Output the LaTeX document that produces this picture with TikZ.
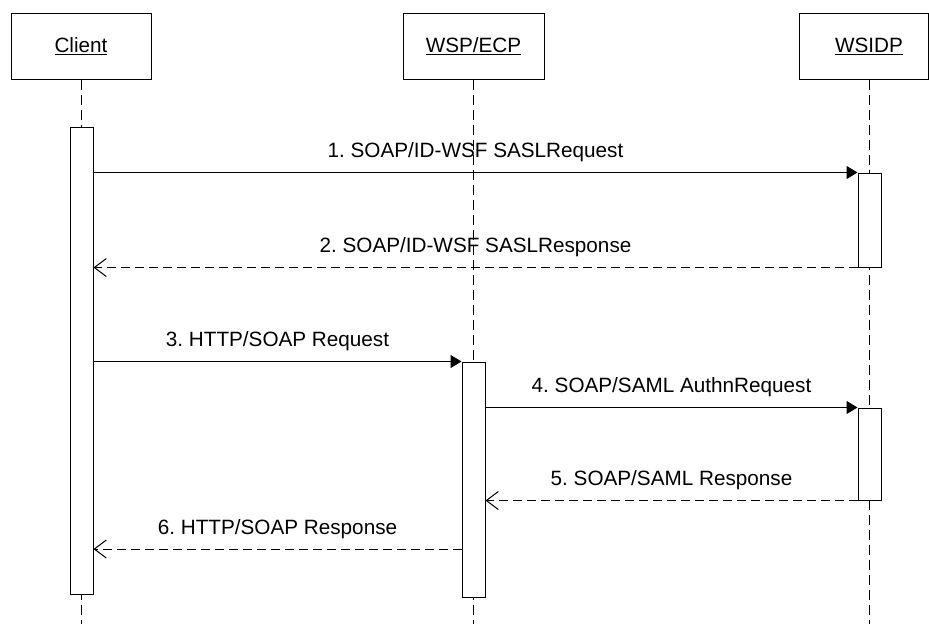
\documentclass[tikz,border=0pt]{standalone}
\usepackage{fontspec}
\setmainfont{Liberation Sans}
\frenchspacing
\usetikzlibrary{arrows.meta, positioning}

\begin{document}
\begin{tikzpicture}[
  x=1pt, y=-1pt,
  every node/.style={font=\fontsize{20.7}{25}\selectfont},
  head/.style={draw, line width=1pt, minimum width=140pt, minimum height=66pt, inner sep=0pt},
  actbar/.style={draw, line width=1pt, fill=white, minimum width=23pt, inner sep=0pt},
  life/.style={line width=1pt, dash pattern=on 10pt off 5pt},
  call/.style={line width=1pt, -{Triangle[length=11pt, width=13pt]}},
  reply/.style={line width=1pt, dash pattern=on 9pt off 5pt, -{Straight Barb[length=12pt, width=18pt]}},
  lbl/.style={anchor=base, yshift=15pt}
]
  \useasboundingbox (0,0) rectangle (929,624);
  \coordinate (bottom) at (0,624);

  % objects
  \node[head] (client) at (81,46) {\underline{Client}};
  \node[head, minimum width=141pt] (ecp) at (473.5,46) {\underline{WSP/ECP}};
  \node[head, minimum width=129pt] (idp) at (863.5,46) {};
  \node (idptxt) at (869,46) {\underline{WSIDP}};

  % lifelines
  \draw[life] (client.south) -- (client.south |- bottom);
  \draw[life] (ecp.south) -- (ecp.south |- bottom);
  \draw[life] (idptxt |- idp.south) -- (idptxt |- bottom);

  % activations
  \node[actbar, minimum height=467pt] (clientbar) at (81.5,360.5) {};
  \node[actbar, minimum height=235pt] (ecpbar) at (473.5,479.5) {};
  \node[actbar, minimum height=94pt] (idpbarA) at (869.5,220) {};
  \node[actbar, minimum height=92pt] (idpbarB) at (869.5,454) {};

  % messages
  \draw[call] (clientbar.east |- idpbarA.north) -- (idpbarA.north west)
    node[lbl, midway] {1. SOAP/ID-WSF SASLRequest};
  \draw[reply] (idpbarA.south west) -- (clientbar.east |- idpbarA.south)
    node[lbl, midway] {2. SOAP/ID-WSF SASLResponse};
  \draw[call] (clientbar.east |- ecpbar.north) -- (ecpbar.north west)
    node[lbl, midway] {3. HTTP/SOAP Request};
  \draw[call] (ecpbar.east |- idpbarB.north) -- (idpbarB.north west)
    node[lbl, midway] {4. SOAP/SAML AuthnRequest};
  \draw[reply] (idpbarB.south west) -- (ecpbar.east |- idpbarB.south)
    node[lbl, midway] {5. SOAP/SAML Response};
  \coordinate (m6) at (0,549);
  \draw[reply] (ecpbar.west |- m6) -- (clientbar.east |- m6)
    node[lbl, midway] {6. HTTP/SOAP Response};
\end{tikzpicture}
\end{document}
